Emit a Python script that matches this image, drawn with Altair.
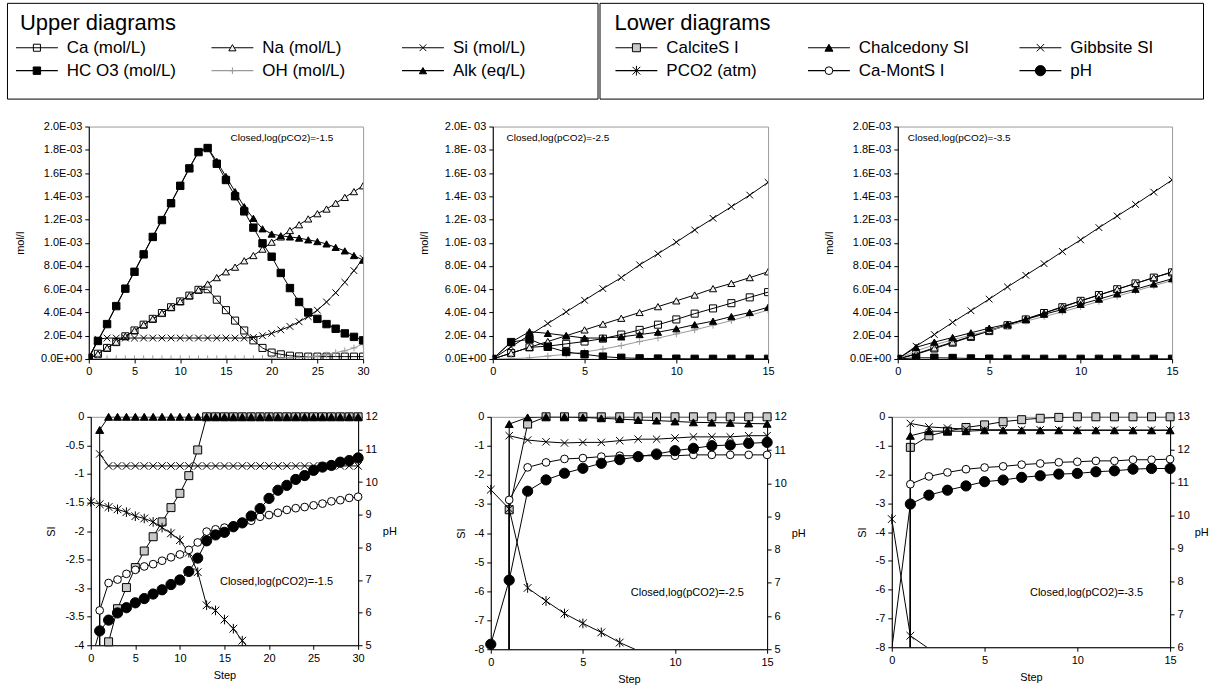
import altair as alt
import pandas as pd

FONT = "Liberation Sans"

# ============ UPPER DIAGRAMS (values in 1e-4 mol/L; Alk in 1e-4 eq/L) ============
# Closed, log(pCO2) = -1.5 : steps 0..30
u1_ca = [0, 0.45, 0.95, 1.45, 1.95, 2.45, 2.95, 3.45, 3.95, 4.45, 4.95, 5.45, 5.95,
         6.0, 5.1, 4.2, 3.3, 2.45, 1.6, 0.95, 0.55, 0.4, 0.28, 0.22, 0.2, 0.2, 0.2, 0.2, 0.2, 0.2, 0.2]
u1_na = [0, 0.45, 0.95, 1.45, 1.95, 2.45, 2.95, 3.45, 3.95, 4.45, 4.95, 5.45, 5.95,
         6.45, 7.0, 7.5, 7.9, 8.45, 8.9, 9.45, 10.05, 10.5, 11.05, 11.55, 12.05, 12.5, 12.9, 13.4, 13.9, 14.4, 14.9]
u1_si = [0, 1.7, 1.8, 1.8, 1.8, 1.8, 1.8, 1.8, 1.8, 1.8, 1.8, 1.8, 1.8, 1.8, 1.8, 1.8, 1.8, 1.8,
         1.85, 2.0, 2.2, 2.5, 2.8, 3.2, 3.65, 4.2, 4.9, 5.7, 6.6, 7.6, 8.65]
u1_hco3 = [0.1, 1.55, 3.0, 4.55, 6.05, 7.5, 9.0, 10.5, 11.95, 13.4, 14.9, 16.4, 17.8,
           18.15, 16.8, 15.4, 14.0, 12.7, 11.3, 9.95, 8.8, 7.4, 6.1, 4.9, 4.0, 3.45, 3.0, 2.6, 2.2, 1.9, 1.6]
u1_oh = [0, 0.02, 0.02, 0.02, 0.02, 0.02, 0.02, 0.02, 0.02, 0.02, 0.02, 0.02, 0.02, 0.02, 0.02, 0.02,
         0.02, 0.02, 0.03, 0.04, 0.05, 0.07, 0.1, 0.12, 0.17, 0.25, 0.35, 0.55, 0.7, 0.95, 1.3]
u1_alk = [0.15, 1.6, 3.05, 4.6, 6.1, 7.55, 9.05, 10.55, 12.0, 13.45, 14.95, 16.45, 17.85,
          18.2, 17.0, 15.7, 14.4, 13.1, 12.1, 11.2, 10.75, 10.6, 10.5, 10.4, 10.25, 10.1, 9.9, 9.6, 9.3, 8.9, 8.5]

# Closed, log(pCO2) = -2.5 : steps 0..15
u2_ca = [0, 0.5, 1.0, 1.1, 1.3, 1.5, 1.75, 2.1, 2.5, 2.95, 3.4, 3.9, 4.35, 4.8, 5.3, 5.75]
u2_na = [0, 0.5, 1.0, 1.5, 2.0, 2.5, 3.0, 3.5, 4.0, 4.5, 5.0, 5.5, 6.05, 6.5, 7.0, 7.5]
u2_si = [0, 1.05, 2.05, 3.05, 4.05, 5.05, 6.05, 7.0, 8.1, 9.05, 10.05, 11.1, 12.1, 13.1, 14.1, 15.2]
u2_hco3 = [0, 1.45, 1.7, 1.05, 0.6, 0.4, 0.2, 0.1, 0.05, 0.03, 0.02, 0.01, 0.01, 0.01, 0.01, 0.01]
u2_oh = [0, 0.02, 0.1, 0.25, 0.4, 0.6, 0.85, 1.15, 1.5, 1.8, 2.15, 2.5, 2.9, 3.3, 3.75, 4.2]
u2_alk = [0, 1.45, 2.35, 2.2, 2.0, 1.8, 1.8, 1.9, 2.1, 2.3, 2.6, 2.95, 3.25, 3.65, 4.0, 4.45]

# Closed, log(pCO2) = -3.5 : steps 0..15
u3_ca = [0, 0.4, 0.9, 1.4, 1.9, 2.4, 2.9, 3.4, 3.95, 4.45, 5.0, 5.5, 6.0, 6.5, 7.0, 7.45]
u3_na = [0, 0.45, 0.95, 1.45, 1.95, 2.45, 2.95, 3.45, 3.95, 4.5, 5.0, 5.5, 6.0, 6.5, 7.0, 7.5]
u3_si = [0, 1.1, 2.1, 3.15, 4.15, 5.15, 6.2, 7.2, 8.2, 9.25, 10.25, 11.3, 12.3, 13.3, 14.35, 15.4]
u3_hco3 = [0, 0.1, 0.1, 0.08, 0.04, 0.02, 0.01, 0.01, 0.01, 0.01, 0.01, 0.01, 0.01, 0.01, 0.01, 0.01]
u3_oh = [0, 0.7, 1.2, 1.65, 2.05, 2.45, 2.85, 3.25, 3.65, 4.05, 4.5, 4.95, 5.4, 5.85, 6.3, 6.75]
u3_alk = [0, 1.0, 1.45, 1.85, 2.25, 2.65, 3.0, 3.4, 3.85, 4.25, 4.7, 5.15, 5.6, 6.0, 6.45, 6.9]

# ============ LOWER DIAGRAMS (SI, log pCO2 on left axis; pH on right axis) ============
# -1000 = far off-scale below the axis at step 0 (gives the vertical line at step 1)
l1_calcite = [-1000, -4.5, -3.94, -3.36, -2.99, -2.64, -2.35, -2.1, -1.84, -1.59, -1.34, -1.03, -0.58,
              0, 0, 0, 0, 0, 0, 0, 0, 0, 0, 0, 0, 0, 0, 0, 0, 0, 0]
l1_chalc = [-1000, -0.23, 0, 0, 0, 0, 0, 0, 0, 0, 0, 0, 0, 0, 0, 0, 0, 0, 0, 0, 0, 0, 0, 0, 0, 0, 0, 0, 0, 0, 0]
l1_gibbs = [-1000, -0.65, -0.86, -0.86, -0.86, -0.86, -0.86, -0.86, -0.86, -0.86, -0.86, -0.86, -0.86,
            -0.86, -0.86, -0.86, -0.86, -0.86, -0.86, -0.86, -0.86, -0.86, -0.86, -0.86, -0.86, -0.86,
            -0.86, -0.86, -0.86, -0.86, -0.86]
l1_pco2 = [-1.49, -1.53, -1.58, -1.62, -1.67, -1.74, -1.78, -1.84, -1.94, -2.04, -2.16, -2.38, -2.72,
           -3.3, -3.39, -3.55, -3.71, -3.92, -4.1]
l1_camont = [-1000, -3.39, -2.91, -2.85, -2.75, -2.68, -2.62, -2.58, -2.52, -2.46, -2.41, -2.33, -2.2,
             -2.01, -1.97, -1.94, -1.9, -1.85, -1.82, -1.75, -1.72, -1.68, -1.63, -1.6, -1.58, -1.55,
             -1.52, -1.48, -1.46, -1.42, -1.4]
l1_ph = [4.5, 5.44, 5.77, 5.99, 6.15, 6.3, 6.43, 6.57, 6.7, 6.86, 7.0, 7.26, 7.67, 8.2, 8.38, 8.46,
         8.63, 8.75, 8.96, 9.19, 9.5, 9.75, 9.9, 10.08, 10.2, 10.36, 10.46, 10.51, 10.61, 10.66, 10.74]

l2_calcite = [-1000, -3.2, -0.25, 0, 0, 0, 0, 0, 0, 0, 0, 0, 0, 0, 0, 0]
l2_chalc = [-1000, -0.25, -0.02, 0, 0, -0.02, -0.05, -0.08, -0.11, -0.13, -0.16, -0.19, -0.2, -0.21, -0.23, -0.24]
l2_gibbs = [-1000, -0.65, -0.8, -0.86, -0.9, -0.88, -0.88, -0.82, -0.77, -0.77, -0.73, -0.69, -0.69, -0.69, -0.65, -0.65]
l2_pco2 = [-2.51, -3.17, -5.89, -6.34, -6.77, -7.11, -7.42, -7.77, -8.05, -8.3]
l2_camont = [-1000, -2.86, -1.74, -1.57, -1.45, -1.42, -1.37, -1.34, -1.34, -1.34, -1.34, -1.31, -1.31, -1.31, -1.31, -1.31]
l2_ph = [5.15, 7.08, 9.76, 10.1, 10.3, 10.45, 10.6, 10.71, 10.8, 10.88, 10.98, 11.05, 11.13, 11.15, 11.2, 11.23]

l3_calcite = [-1000, -1.06, -0.66, -0.5, -0.37, -0.28, -0.17, -0.1, -0.05, -0.02, 0, 0, 0, 0, 0, 0]
l3_chalc = [-1000, -0.66, -0.5, -0.5, -0.5, -0.47, -0.47, -0.47, -0.47, -0.47, -0.47, -0.47, -0.47, -0.47, -0.47, -0.47]
l3_gibbs = [-1000, -0.23, -0.35, -0.39, -0.43, -0.45, -0.45, -0.45, -0.45, -0.45, -0.46, -0.46, -0.46, -0.46, -0.46, -0.46]
l3_pco2 = [-3.55, -7.6, -8.05, -8.5]
l3_camont = [-1000, -2.34, -2.07, -1.93, -1.82, -1.76, -1.72, -1.66, -1.62, -1.58, -1.56, -1.53, -1.53, -1.49, -1.49, -1.47]
l3_ph = [5.95, 10.35, 10.62, 10.77, 10.9, 11.03, 11.08, 11.16, 11.21, 11.26, 11.28, 11.33, 11.36, 11.41, 11.43, 11.43]

# tick values
up_y_ticks = [0, 0.0002, 0.0004, 0.0006, 0.0008, 0.001, 0.0012, 0.0014, 0.0016, 0.0018, 0.002]
x_ticks_30 = [0, 5, 10, 15, 20, 25, 30]
x_ticks_15 = [0, 5, 10, 15]
si_ticks_4 = [0, -0.5, -1, -1.5, -2, -2.5, -3, -3.5, -4]
si_ticks_8 = [0, -1, -2, -3, -4, -5, -6, -7, -8]
ph_ticks_5_12 = [5, 6, 7, 8, 9, 10, 11, 12]
ph_ticks_6_13 = [6, 7, 8, 9, 10, 11, 12, 13]

# ============ styles ============
X_PATH = "M-1,-1L1,1M1,-1L-1,1"
PLUS_PATH = "M-1,0L1,0M0,-1L0,1"
AST_PATH = "M-1,-1L1,1M1,-1L-1,1M0,-1.25L0,1.25"
GREY = "#9a9a9a"

UP_NAMES = ["Ca (mol/L)", "Na (mol/L)", "Si (mol/L)", "HC O3 (mol/L)", "OH (mol/L)", "Alk (eq/L)"]
UP_STYLE = {
    "Ca (mol/L)": dict(shape="square", fill=None, stroke="black", size=50, line="black"),
    "Na (mol/L)": dict(shape="triangle-up", fill="#f0f0f0", stroke="black", size=52, line="black"),
    "Si (mol/L)": dict(shape=X_PATH, fill=None, stroke="black", size=45, line="black"),
    "HC O3 (mol/L)": dict(shape="square", fill="black", stroke="black", size=55, line="black"),
    "OH (mol/L)": dict(shape=PLUS_PATH, fill=None, stroke=GREY, size=45, line=GREY),
    "Alk (eq/L)": dict(shape="triangle-up", fill="black", stroke="black", size=52, line="black"),
}
UP_DRAW = ["Ca (mol/L)", "Na (mol/L)", "Si (mol/L)", "OH (mol/L)", "Alk (eq/L)", "HC O3 (mol/L)"]

LO_NAMES = ["CalciteS I", "Chalcedony SI", "Gibbsite SI", "PCO2 (atm)", "Ca-MontS I", "pH"]
LO_STYLE = {
    "CalciteS I": dict(shape="square", fill="#c8c8c8", stroke="black", size=64, line="black"),
    "Chalcedony SI": dict(shape="triangle-up", fill="black", stroke="black", size=64, line="black"),
    "Gibbsite SI": dict(shape=X_PATH, fill=None, stroke="black", size=55, line="black"),
    "PCO2 (atm)": dict(shape=AST_PATH, fill=None, stroke="black", size=60, line="black"),
    "Ca-MontS I": dict(shape="circle", fill="white", stroke="black", size=60, line="black"),
    "pH": dict(shape="circle", fill="black", stroke="black", size=105, line="black"),
}


def pt_kw(st):
    kw = dict(shape=st["shape"], size=st["size"], strokeWidth=1, opacity=1, stroke=st["stroke"])
    if st["fill"]:
        kw.update(filled=True, fill=st["fill"])
    else:
        kw.update(filled=False)
    return kw


def axis(values, title=None, orient=None, label_expr=None, **extra):
    kw = dict(values=values, grid=False, labelFont=FONT, labelFontSize=11, labelColor="black",
              tickColor="black", domainColor="black", tickSize=4, labelPadding=3,
              titleFont=FONT, titleFontSize=11, titleFontWeight="normal", titleColor="black",
              labelFlush=False, labelOverlap=False, title=title)
    if orient:
        kw["orient"] = orient
    if label_expr:
        kw["labelExpr"] = label_expr
    kw.update(extra)
    return alt.Axis(**kw)


def sci_expr(sep):
    return ("datum.value < 0.00001 ? '0.0E+00' : (datum.value > 0.00099 ? "
            f"format(datum.value * 1000, '.1f') + 'E-{sep}03' : "
            f"format(datum.value * 10000, '.1f') + 'E-{sep}04')")


SI_EXPR = "(datum.value < 0 ? '-' : '') + abs(datum.value)"


def upper_panel(series, smax, xticks, sep, note, note_step, note_val, width, height):
    xs = alt.X("step:Q", scale=alt.Scale(domain=[0, smax], nice=False, zero=False),
               axis=axis(xticks))
    ys = alt.Y("v:Q", scale=alt.Scale(domain=[0, 0.002], nice=False),
               axis=axis(up_y_ticks, title="mol/l", label_expr=sci_expr(sep), titlePadding=15))
    layers = []
    for name in UP_DRAW:
        vals = series[name]
        df = pd.DataFrame({"step": list(range(len(vals))), "v": [x * 1e-4 for x in vals]})
        st = UP_STYLE[name]
        base = alt.Chart(df).encode(x=xs, y=ys)
        layers.append(base.mark_line(color=st["line"], strokeWidth=1, clip=True))
        layers.append(base.mark_point(clip=True, **pt_kw(st)))
    ndf = pd.DataFrame({"step": [note_step], "v": [note_val], "t": [note]})
    layers.append(alt.Chart(ndf).mark_text(align="left", baseline="middle", font=FONT, fontSize=10,
                                           color="black").encode(x=xs, y=ys, text="t:N"))
    return alt.layer(*layers).properties(width=width, height=height,
                                         view=alt.ViewBackground(stroke=GREY, strokeWidth=1))


def lower_panel(series, ph, smax, xticks, si_dom, si_ticks, ph_dom, ph_ticks,
                note, note_step, note_val, width, height):
    xs = alt.X("step:Q", scale=alt.Scale(domain=[0, smax], nice=False, zero=False),
               axis=axis(xticks, title="Step", titlePadding=6))
    ys = alt.Y("v:Q", scale=alt.Scale(domain=si_dom, nice=False, zero=False),
               axis=axis(si_ticks, title="SI", label_expr=SI_EXPR, titlePadding=8))
    layers = []
    for name in LO_NAMES[:-1]:
        vals = series[name]
        df = pd.DataFrame({"step": list(range(len(vals))), "v": vals})
        st = LO_STYLE[name]
        base = alt.Chart(df).encode(x=xs, y=ys)
        layers.append(base.mark_line(color=st["line"], strokeWidth=1, clip=True))
        layers.append(base.transform_filter(alt.FieldRangePredicate(field="v", range=si_dom))
                      .mark_point(**pt_kw(st)))
    ndf = pd.DataFrame({"step": [note_step], "v": [note_val], "t": [note]})
    layers.append(alt.Chart(ndf).mark_text(align="left", baseline="middle", font=FONT, fontSize=11,
                                           color="black").encode(x=xs, y=ys, text="t:N"))
    si_layer = alt.layer(*layers)

    yp = alt.Y("v:Q", scale=alt.Scale(domain=ph_dom, nice=False, zero=False),
               axis=axis(ph_ticks, title="pH", orient="right", titleAngle=0, titleAlign="left",
                         titleBaseline="middle", titlePadding=5))
    pdf = pd.DataFrame({"step": list(range(len(ph))), "v": ph})
    st = LO_STYLE["pH"]
    pbase = alt.Chart(pdf).encode(x=xs, y=yp)
    ph_layer = alt.layer(
        pbase.mark_line(color="black", strokeWidth=1, clip=True),
        pbase.transform_filter(alt.FieldRangePredicate(field="v", range=ph_dom)).mark_point(**pt_kw(st)),
    )
    return (alt.layer(si_layer, ph_layer).resolve_scale(y="independent")
            .properties(width=width, height=height, view=alt.ViewBackground(stroke=GREY, strokeWidth=1)))


def legend_box(title, names, styles, col_range, row_range, title_dx, width, height):
    xsc = alt.Scale(domain=[0, 1, 2], range=col_range)
    ysc = alt.Scale(domain=[0, 1, 2], range=row_range)
    tdf = pd.DataFrame({"col": [0], "row": [0], "label": [title]})
    layers = [alt.Chart(tdf).mark_text(align="left", baseline="middle", font=FONT, fontSize=22,
                                       dx=title_dx, color="black")
              .encode(x=alt.X("col:Q", scale=xsc, axis=None), y=alt.Y("row:Q", scale=ysc, axis=None),
                      text="label:N")]
    for i, name in enumerate(names):
        st = styles[name]
        df = pd.DataFrame({"col": [i % 3], "row": [1 + i // 3], "label": [name]})
        base = alt.Chart(df).encode(x=alt.X("col:Q", scale=xsc, axis=None),
                                    y=alt.Y("row:Q", scale=ysc, axis=None))
        layers.append(base.mark_rule(color=st["line"], strokeWidth=1.2, xOffset=-21, x2Offset=21)
                      .encode(x2="col:Q"))
        layers.append(base.mark_point(**pt_kw(st)))
        layers.append(base.mark_text(align="left", baseline="middle", dx=30, font=FONT, fontSize=17,
                                     color="black").encode(text="label:N"))
    return alt.layer(*layers).properties(width=width, height=height,
                                         view=alt.ViewBackground(stroke="black", strokeWidth=1))


def spacer(w):
    df = pd.DataFrame({"a": [0]})
    return (alt.Chart(df).mark_point(opacity=0)
            .encode(x=alt.X("a:Q", axis=None), y=alt.Y("a:Q", axis=None))
            .properties(width=w, height=1, view=alt.ViewBackground(stroke="transparent")))


up1 = dict(zip(UP_NAMES, [u1_ca, u1_na, u1_si, u1_hco3, u1_oh, u1_alk]))
up2 = dict(zip(UP_NAMES, [u2_ca, u2_na, u2_si, u2_hco3, u2_oh, u2_alk]))
up3 = dict(zip(UP_NAMES, [u3_ca, u3_na, u3_si, u3_hco3, u3_oh, u3_alk]))
lo1 = dict(zip(LO_NAMES[:-1], [l1_calcite, l1_chalc, l1_gibbs, l1_pco2, l1_camont]))
lo2 = dict(zip(LO_NAMES[:-1], [l2_calcite, l2_chalc, l2_gibbs, l2_pco2, l2_camont]))
lo3 = dict(zip(LO_NAMES[:-1], [l3_calcite, l3_chalc, l3_gibbs, l3_pco2, l3_camont]))

UL = upper_panel(up1, 30, x_ticks_30, "", "Closed,log(pCO2)=-1.5", 15.5, 0.0019, 275, 233)
UM = upper_panel(up2, 15, x_ticks_15, " ", "Closed,log(pCO2)=-2.5", 0.75, 0.0019, 276, 233)
UR = upper_panel(up3, 15, x_ticks_15, "", "Closed,log(pCO2)=-3.5", 0.55, 0.0019, 275, 233)

LL = lower_panel(lo1, l1_ph, 30, x_ticks_30, [-4, 0], si_ticks_4, [5, 12], ph_ticks_5_12,
                 "Closed,log(pCO2)=-1.5", 14.5, -2.9, 268, 229)
LM = lower_panel(lo2, l2_ph, 15, x_ticks_15, [-8, 0], si_ticks_8, [5, 12], ph_ticks_5_12,
                 "Closed,log(pCO2)=-2.5", 7.6, -6.05, 277, 233)
LR = lower_panel(lo3, l3_ph, 15, x_ticks_15, [-8, 0], si_ticks_8, [6, 13], ph_ticks_6_13,
                 "Closed,log(pCO2)=-3.5", 7.45, -6.1, 279, 231)

LEG_UP = legend_box("Upper diagrams", UP_NAMES, UP_STYLE, [30, 226, 417], [20, 45, 68], -17, 592, 96)
LEG_LO = legend_box("Lower diagrams", LO_NAMES, LO_STYLE, [37, 230, 442], [20, 45, 68], -22, 605, 96)

row_leg = alt.hconcat(LEG_UP, LEG_LO, spacing=2, bounds="flush")
row_up = alt.hconcat(spacer(82), alt.hconcat(UL, UM, UR, spacing=130, bounds="flush"),
                     spacing=0, bounds="flush")
row_lo = alt.hconcat(spacer(84),
                     alt.hconcat(LL, alt.hconcat(LM, LR, spacing=125, bounds="flush"),
                                 spacing=133, bounds="flush"),
                     spacing=0, bounds="flush")

chart = alt.vconcat(
    row_leg,
    alt.vconcat(row_up, row_lo, spacing=32),
    spacing=20,
).properties(
    padding={"left": 6, "top": 1, "right": 0, "bottom": 0},
    background="white",
).configure(font=FONT).configure_view(stroke="transparent")

chart.save("out.html", embed_options={"renderer": "svg", "actions": False})
